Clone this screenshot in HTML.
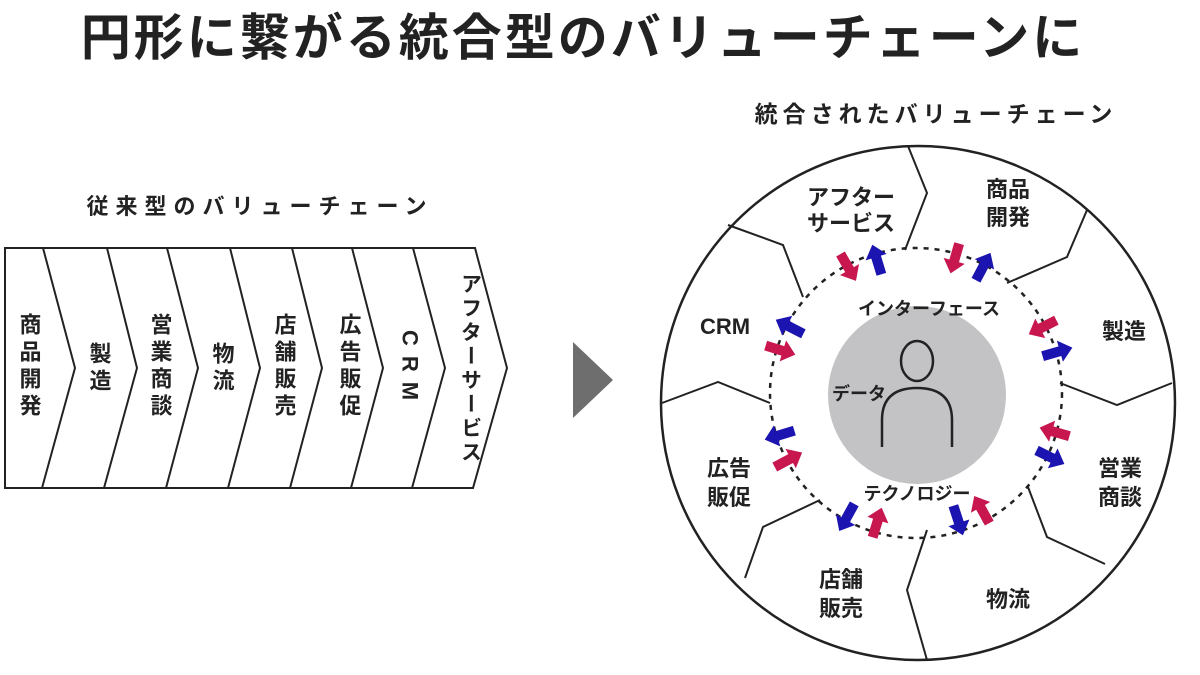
<!DOCTYPE html>
<html><head><meta charset="utf-8"><style>
html,body{margin:0;padding:0;background:#fff;}
svg{display:block;}
text{font-family:"Liberation Sans","Noto Sans CJK JP",sans-serif;font-weight:bold;fill:#222;}
</style></head><body>
<svg width="1200" height="675" viewBox="0 0 1200 675" xmlns="http://www.w3.org/2000/svg">
<defs>
<polygon id="ar" points="-15,-5 3,-5 3,-11 16,0 3,11 3,5 -15,5"/>
</defs>
<text x="583" y="55" font-size="50" text-anchor="middle" letter-spacing="3">円形に繋がる統合型のバリューチェーンに</text>
<text x="936" y="122" font-size="23" text-anchor="middle" letter-spacing="5">統合されたバリューチェーン</text>
<text x="260" y="214" font-size="22" text-anchor="middle" letter-spacing="7">従来型のバリューチェーン</text>

<!-- chevrons -->
<g fill="none" stroke="#222" stroke-width="2">
<path d="M5,248 L475,248 L507,368 L473,488 L5,488 Z"/>
<path d="M43,248 L75,368 L42,488"/>
<path d="M107,248 L137,368 L104,488"/>
<path d="M167,248 L198,368 L166,488"/>
<path d="M230,248 L260,368 L228,488"/>
<path d="M292,248 L322,368 L290,488"/>
<path d="M352,248 L383,368 L351,488"/>
<path d="M413,248 L445,368 L412,488"/>
</g>
<g font-size="22" text-anchor="start" style="writing-mode:vertical-rl" letter-spacing="5">
<text x="29" y="313">商品開発</text>
<text x="99" y="342">製造</text>
<text x="160" y="313">営業商談</text>
<text x="222" y="342">物流</text>
<text x="284" y="313">店舗販売</text>
<text x="349" y="313">広告販促</text>
<text x="410" y="330" letter-spacing="10">CRM</text>
<text x="470" y="273" font-size="21" letter-spacing="3">アフターサービス</text>
</g>

<polygon points="573,342 613,380 573,418" fill="#6e6e6e"/>

<!-- circle -->
<circle cx="918" cy="403" r="257" fill="none" stroke="#222" stroke-width="2.5"/>
<circle cx="917" cy="395" r="89" fill="#c3c3c5"/>
<ellipse cx="916" cy="393" rx="146" ry="145" fill="none" stroke="#222" stroke-width="2.5" stroke-dasharray="5,6"/>
<g fill="none" stroke="#222" stroke-width="2">
<path d="M908,146 L927,193 L905,250"/>
<path d="M1087,210 L1067,257 L1007,283"/>
<path d="M1172,383 L1117,405 L1060,383"/>
<path d="M1105,564 L1047,537 L1028,487"/>
<path d="M927,660 L907,590 L927,530"/>
<path d="M745,578 L763,527 L820,500"/>
<path d="M662,403 L718,382 L770,403"/>
<path d="M728,225 L783,245 L803,297"/>
</g>
<!-- person -->
<g fill="none" stroke="#222" stroke-width="2.5">
<ellipse cx="917" cy="361" rx="16" ry="20"/>
<path d="M882,447 L882,420 Q882,388 917,388 Q952,388 952,420 L952,447"/>
</g>
<!-- arrows -->
<g>
<use href="#ar" fill="#c8174f" transform="translate(848,267) rotate(60)"/>
<use href="#ar" fill="#1c14b0" transform="translate(877,260) rotate(-107)"/>
<use href="#ar" fill="#c8174f" transform="translate(955,258) rotate(106)"/>
<use href="#ar" fill="#1c14b0" transform="translate(983,267) rotate(-62)"/>
<use href="#ar" fill="#c8174f" transform="translate(1043,327) rotate(153)"/>
<use href="#ar" fill="#1c14b0" transform="translate(1057,352) rotate(-16)"/>
<use href="#ar" fill="#c8174f" transform="translate(1055,432) rotate(196)"/>
<use href="#ar" fill="#1c14b0" transform="translate(1050,457) rotate(26)"/>
<use href="#ar" fill="#1c14b0" transform="translate(958,520) rotate(72)"/>
<use href="#ar" fill="#c8174f" transform="translate(982,510) rotate(-119)"/>
<use href="#ar" fill="#1c14b0" transform="translate(847,517) rotate(119)"/>
<use href="#ar" fill="#c8174f" transform="translate(877,523) rotate(-73)"/>
<use href="#ar" fill="#1c14b0" transform="translate(780,435) rotate(163)"/>
<use href="#ar" fill="#c8174f" transform="translate(788,460) rotate(-28)"/>
<use href="#ar" fill="#1c14b0" transform="translate(790,327) rotate(-153)"/>
<use href="#ar" fill="#c8174f" transform="translate(780,350) rotate(17)"/>
</g>
<g font-size="22" text-anchor="middle">
<text x="851" y="205">アフター</text>
<text x="851" y="231">サービス</text>
<text x="1008" y="197">商品</text>
<text x="1008" y="225">開発</text>
<text x="725" y="334">CRM</text>
<text x="1124" y="339">製造</text>
<text x="1120" y="476">営業</text>
<text x="1120" y="505">商談</text>
<text x="729" y="476">広告</text>
<text x="729" y="505">販促</text>
<text x="841" y="587">店舗</text>
<text x="841" y="616">販売</text>
<text x="1008" y="607">物流</text>
</g>
<g font-size="18" text-anchor="middle">
<text x="929" y="315">インターフェース</text>
<text x="859" y="400">データ</text>
<text x="917" y="500">テクノロジー</text>
</g>
</svg>
</body></html>
